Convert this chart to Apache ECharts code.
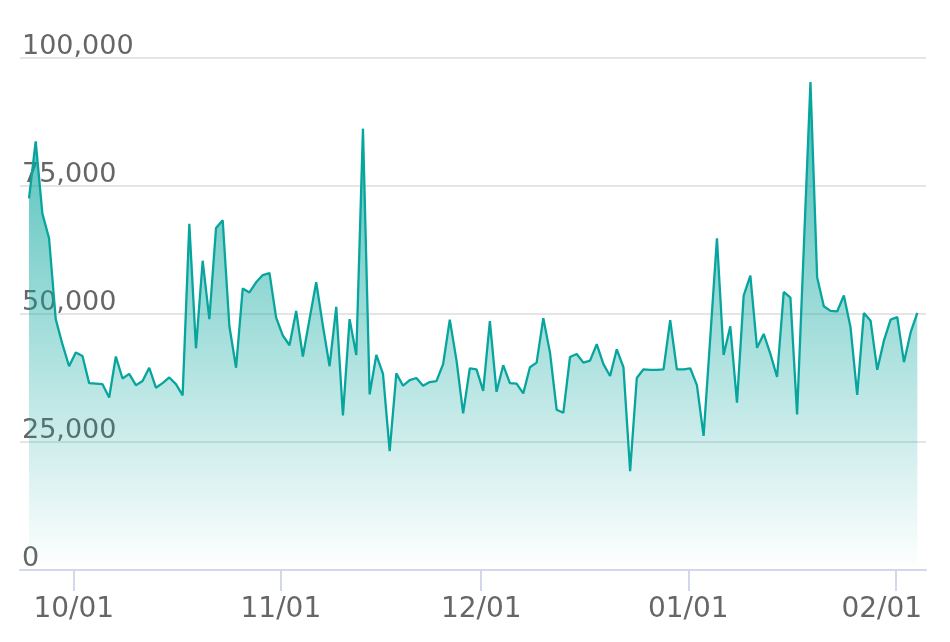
<!DOCTYPE html>
<html>
<head>
<meta charset="utf-8">
<script src="https://cdn.jsdelivr.net/npm/echarts@6/dist/echarts.min.js"></script>
<style>
  html, body { margin: 0; padding: 0; background: #fff; }
  #chart { width: 950px; height: 642px; }
</style>
</head>
<body>
<div id="chart"></div>
<script>
// daily values, starting 2023-09-24 (readings are taken in the morning)
const startDate = [2023, 8, 24, 7];
const values = [
  72600, 83700, 69600, 64800, 49000, 44100, 39800, 42500, 41800, 36500, 36400,
  36300, 33700, 41700, 37400, 38300, 36100, 36900, 39500, 35600, 36500, 37600,
  36300, 34100, 67600, 43300, 60400, 49000, 66800, 68300, 47600, 39500, 55000,
  54200, 56200, 57600, 58000, 49300, 45800, 43900, 50600, 41700, 49000, 56200,
  47700, 39800, 51400, 30200, 49000, 42000, 86200, 34300, 42000, 38300, 23200,
  38400, 36000, 37100, 37500, 36000, 36700, 36900, 40200, 48900, 41000,
  30600, 39400, 39200, 35000, 48600, 34800, 40000, 36500, 36400, 34500, 39600,
  40500, 49200, 42500, 31300, 30700, 41600, 42200, 40500, 40900, 44100, 40200,
  37900, 43100, 39600, 19300, 37500, 39200, 39100, 39100, 39200, 48800, 39200,
  39200, 39400, 36100, 26200, 45400, 64800, 42000, 47600, 32700, 53600, 57500,
  43400, 46100, 42200, 37700, 54300, 53200, 30400, 62800, 95300, 57200, 51500,
  50600, 50500, 53600, 47400, 34200, 50200, 48700, 39100, 44800, 48900, 49400,
  40600, 46400, 50200
];
const yTicks = [0, 25000, 50000, 75000, 100000];

const DAY = 86400000;
const dates = values.map((v, i) =>
  new Date(startDate[0], startDate[1], startDate[2] + i, startDate[3]).getTime());
const seriesData = dates.map((d, i) => [d, values[i]]);
const lastDate = dates[dates.length - 1];

const teal = '#07a59d';
const chart = echarts.init(document.getElementById('chart'));
chart.setOption({
  animation: false,
  grid: { left: 20, right: 24, top: 58, bottom: 72 },
  xAxis: {
    type: 'time',
    min: v => v.min - 1.35 * DAY,
    max: v => v.max + 1.3 * DAY,
    minInterval: 28 * DAY,
    maxInterval: 31 * DAY,
    splitNumber: 4,
    axisLine: { lineStyle: { color: '#d3d7eb', width: 2 } },
    axisTick: { show: true, length: 21, lineStyle: { color: '#d3d7eb', width: 2 } },
    splitLine: { show: false },
    minorTick: { show: false },
    axisLabel: {
      color: '#666',
      fontFamily: 'DejaVu Sans',
      fontSize: 28,
      margin: 26,
      hideOverlap: false,
      formatter: v => {
        const s = echarts.time.format(v, '{MM}/{dd}', false);
        // keep the last label inside the page
        return v > lastDate - 10 * DAY ? '{last|' + s + '}' : s;
      },
      rich: {
        last: { fontFamily: 'DejaVu Sans', fontSize: 28, color: '#666', padding: [0, 27, 0, 0] }
      }
    }
  },
  yAxis: {
    type: 'value',
    min: yTicks[0],
    max: yTicks[yTicks.length - 1],
    interval: yTicks[1] - yTicks[0],
    axisLine: { show: false },
    axisTick: { show: false },
    splitLine: { lineStyle: { color: '#e5e5e5', width: 2 } },
    axisLabel: {
      inside: true,
      margin: 2,
      color: '#666',
      fontFamily: 'DejaVu Sans',
      fontSize: 27,
      lineHeight: 23,
      verticalAlign: 'bottom',
      formatter: v => v.toLocaleString('en-US')
    }
  },
  series: [{
    type: 'line',
    data: seriesData,
    showSymbol: false,
    lineStyle: { color: teal, width: 2.3 },
    itemStyle: { color: teal },
    areaStyle: {
      opacity: 1,
      color: new echarts.graphic.LinearGradient(0, 0, 0, 1, [
        { offset: 0, color: 'rgba(7,165,157,0.75)' },
        { offset: 1, color: 'rgba(7,165,157,0)' }
      ])
    }
  }]
});
</script>
</body>
</html>
